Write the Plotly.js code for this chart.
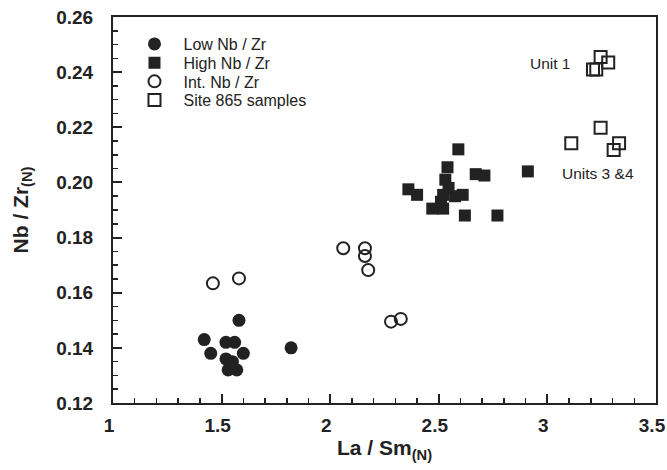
<!DOCTYPE html>
<html>
<head>
<meta charset="utf-8">
<script src="https://cdn.plot.ly/plotly-3.0.1.min.js"></script>
<style>html,body{margin:0;padding:0;background:#fff;}#chart{width:667px;height:470px;}</style>
</head>
<body>
<div id="chart"></div>
<script>
// Data
var lowX  = [1.42, 1.45, 1.52, 1.56, 1.60, 1.52, 1.53, 1.57, 1.55, 1.58, 1.82];
var lowY  = [0.143, 0.138, 0.142, 0.142, 0.138, 0.136, 0.132, 0.132, 0.135, 0.150, 0.140];

var highX = [2.59, 2.54, 2.67, 2.71, 2.91, 2.53, 2.36, 2.40, 2.47, 2.52, 2.52, 2.575, 2.61, 2.62, 2.77, 2.51, 2.545];
var highY = [0.212, 0.2055, 0.203, 0.2025, 0.204, 0.201, 0.1975, 0.1955, 0.1905, 0.1905, 0.1955, 0.195, 0.1955, 0.188, 0.188, 0.193, 0.198];

var intX  = [1.46, 1.58, 2.06, 2.16, 2.16, 2.175, 2.28, 2.325];
var intY  = [0.1634, 0.1652, 0.1761, 0.1761, 0.1733, 0.1682, 0.1495, 0.1505];

var siteX = [3.21, 3.225, 3.245, 3.28, 3.11, 3.245, 3.33, 3.305];
var siteY = [0.241, 0.241, 0.2455, 0.2435, 0.2142, 0.2198, 0.2142, 0.2118];

var legendNames = ['Low Nb / Zr', 'High Nb / Zr', 'Int. Nb / Zr', 'Site 865 samples'];
var noteTexts = ['Unit 1', 'Units 3 &4'];
var noteX = [3.12, 3.058];
var noteY = [0.2433, 0.2034];
var noteAnchor = ['right', 'left'];

var xTickVals = [1, 1.5, 2, 2.5, 3, 3.5];
var yTickVals = [0.12, 0.14, 0.16, 0.18, 0.20, 0.22, 0.24, 0.26];

var FONT = 'Arial, Liberation Sans, sans-serif';
var ink = '#222222';
var legendIds = ['legend', 'legend2', 'legend3', 'legend4'];
var legendRowY = [0.930, 0.881, 0.833, 0.785];

var traces = [
  {x: lowX, y: lowY, name: legendNames[0], legend: legendIds[0], type: 'scatter', mode: 'markers',
   marker: {symbol: 'circle', size: 13, color: ink, line: {width: 0}}},
  {x: highX, y: highY, name: legendNames[1], legend: legendIds[1], type: 'scatter', mode: 'markers',
   marker: {symbol: 'square', size: 12, color: ink, line: {width: 0}}},
  {x: intX, y: intY, name: legendNames[2], legend: legendIds[2], type: 'scatter', mode: 'markers',
   marker: {symbol: 'circle-open', size: 12, color: ink, line: {width: 2, color: ink}}},
  {x: siteX, y: siteY, name: legendNames[3], legend: legendIds[3], type: 'scatter', mode: 'markers',
   marker: {symbol: 'square-open', size: 12, color: ink, line: {width: 2, color: ink}}}
];

function axisBase() {
  return {
    showline: true, linecolor: ink, linewidth: 2, mirror: true,
    ticks: 'inside', ticklen: 9, tickwidth: 2, tickcolor: ink,
    showgrid: false, zeroline: false, ticklabeloverflow: 'allow',
    tickfont: {family: FONT, size: 19, color: ink, weight: 'bold'}
  };
}

var layout = {
  width: 667, height: 470,
  margin: {l: 113, r: 11, t: 17, b: 67},
  paper_bgcolor: '#fff', plot_bgcolor: '#fff',
  font: {family: FONT, color: ink},
  showlegend: true,
  xaxis: Object.assign(axisBase(), {
    range: [1, 3.5], tickvals: xTickVals, ticktext: xTickVals.map(String),
    ticklabelstandoff: 4, ticklabelshift: -4,
    minor: {dtick: 0.1, ticks: 'inside', ticklen: 5, tickwidth: 1.5, tickcolor: ink},
    title: {text: '<b>La / Sm<sub>(N)</sub></b>', font: {family: FONT, size: 21, color: ink}, standoff: 6}
  }),
  yaxis: Object.assign(axisBase(), {
    range: [0.12, 0.26], tickvals: yTickVals, tickformat: '.2f',
    ticklabelstandoff: 14,
    minor: {dtick: 0.005, ticks: 'inside', ticklen: 5, tickwidth: 1.5, tickcolor: ink},
    title: {text: '<b>Nb / Zr<sub>(N)</sub></b>', font: {family: FONT, size: 21, color: ink}, standoff: 22}
  }),
  annotations: noteTexts.map(function (t, i) {
    return {x: noteX[i], y: noteY[i], xref: 'x', yref: 'y', text: t, showarrow: false,
            xanchor: noteAnchor[i], font: {family: FONT, size: 15.5, color: ink}};
  })
};
legendIds.forEach(function (id, i) {
  layout[id] = {x: 0.023, y: legendRowY[i], xanchor: 'left', yanchor: 'middle',
                bgcolor: 'rgba(0,0,0,0)', borderwidth: 0, itemwidth: 48,
                font: {family: FONT, size: 16, color: ink}};
});

Plotly.newPlot('chart', traces, layout, {displayModeBar: false, staticPlot: true});
</script>
</body>
</html>
